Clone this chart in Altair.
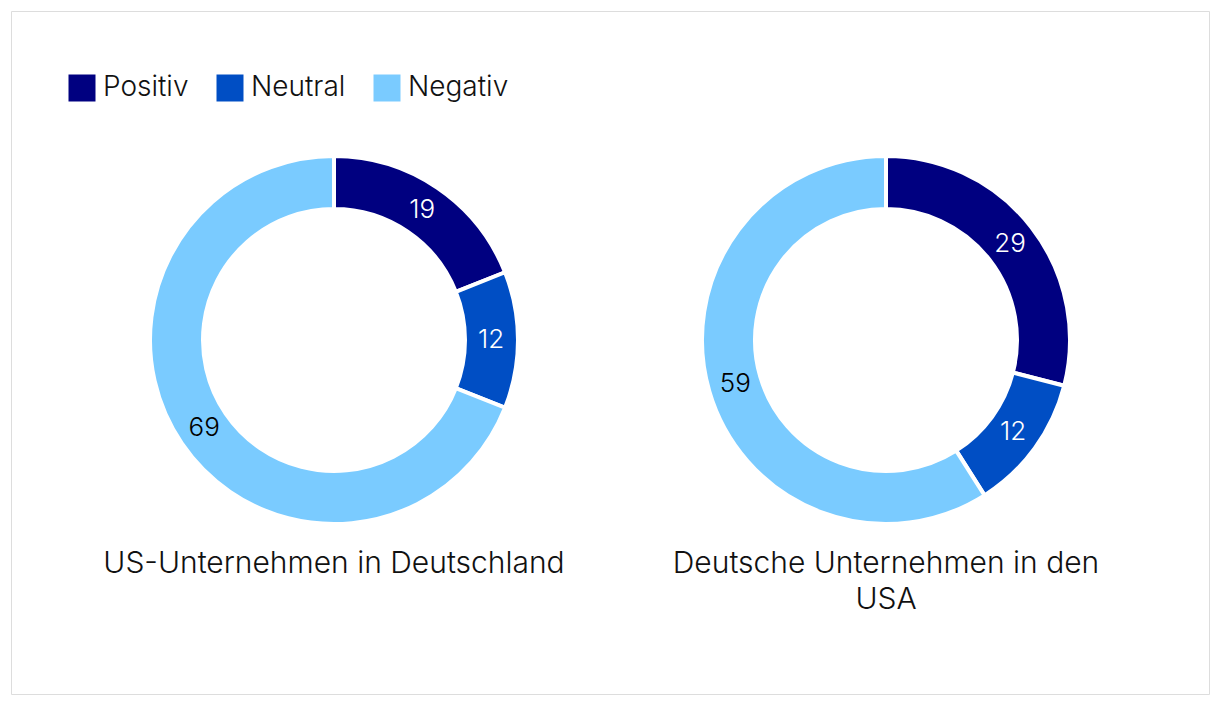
import altair as alt
import pandas as pd

categories = ["Positiv", "Neutral", "Negativ"]
colors = ["#000080", "#004EC4", "#7ACBFF"]
text_colors = ["white", "white", "black"]
groups = ["US-Unternehmen in Deutschland", "Deutsche Unternehmen in den USA"]
group_titles = [["US-Unternehmen in Deutschland"], ["Deutsche Unternehmen in den", "USA"]]
values_us_de = [19, 12, 69]
values_de_us = [29, 12, 59]

rows = []
for g, vals in zip(groups, [values_us_de, values_de_us]):
    for i, (c, v) in enumerate(zip(categories, vals)):
        rows.append({"group": g, "cat": c, "value": v, "order": i, "tcolor": text_colors[i]})
df = pd.DataFrame(rows)

centers_x = [323, 875]
center_y = 329
FONT = "Inter"
FW = 300

layers = []
for gi, g in enumerate(groups):
    base = alt.Chart(df).transform_filter(alt.datum.group == g)
    arc = base.mark_arc(outerRadius=184, innerRadius=131, stroke="white", strokeWidth=4).encode(
        theta=alt.Theta("value:Q", stack=True),
        color=alt.Color("cat:N", scale=alt.Scale(domain=categories, range=colors),
                        legend=alt.Legend(title=None, orient="none", legendX=57, legendY=63,
                                          direction="horizontal", symbolType="square",
                                          symbolSize=729, symbolStrokeWidth=0,
                                          labelFontSize=28, labelFont=FONT, labelFontWeight=FW,
                                          labelColor="#111",
                                          labelOffset=7, columnPadding=27) if gi == 0 else None),
        order=alt.Order("order:Q"),
        x=alt.value(centers_x[gi]),
        y=alt.value(center_y),
    )
    txt = base.mark_text(radius=157, fontSize=26, font=FONT, fontWeight=FW).encode(
        theta=alt.Theta("value:Q", stack=True),
        order=alt.Order("order:Q"),
        text=alt.Text("value:Q"),
        color=alt.Color("tcolor:N", scale=None),
        x=alt.value(centers_x[gi]),
        y=alt.value(center_y),
    )
    title_df = pd.DataFrame({"t": [group_titles[gi]]})
    ttl = alt.Chart(title_df).mark_text(fontSize=30, font=FONT, fontWeight=FW, color="#111",
                                         baseline="middle", align="center", lineHeight=36).encode(
        text="t",
        x=alt.value(centers_x[gi]),
        y=alt.value(553),
    )
    layers += [arc, txt, ttl]

chart = alt.layer(*layers).properties(
    width=1198, height=683,
    padding={"left": 3, "top": 3, "right": 3, "bottom": 3},
    autosize=alt.AutoSizeParams(type="none"),
).configure_view(stroke="#A4A9AE", strokeWidth=2).configure(background="white")

chart.save("out.html", embed_options={"renderer": "svg", "actions": False})
